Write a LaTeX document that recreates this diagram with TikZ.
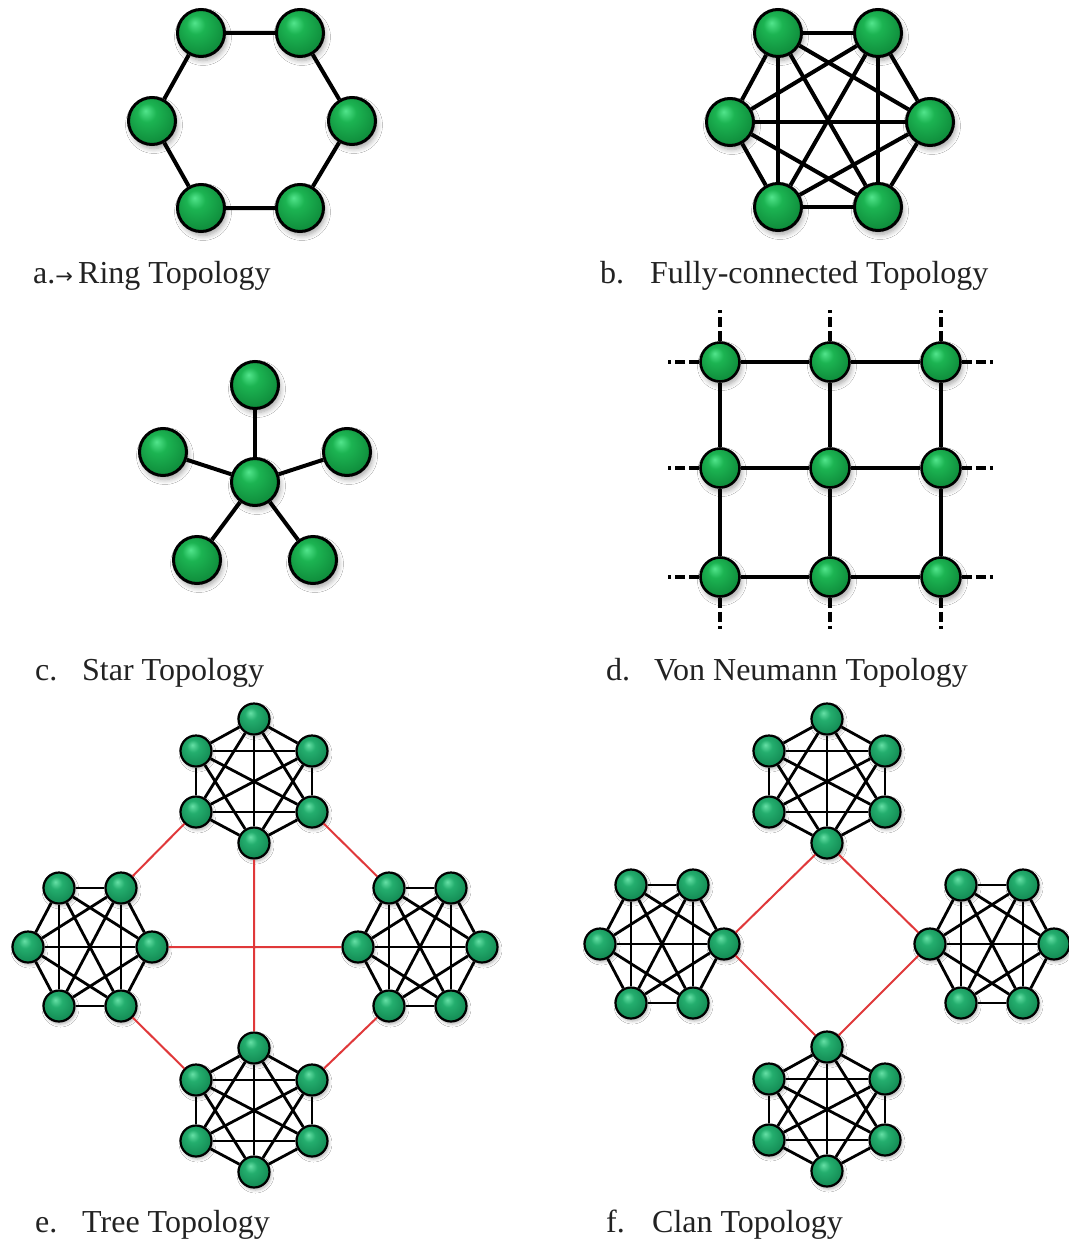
\documentclass[tikz,border=0pt]{standalone}
\usepackage{fontspec}
\setmainfont{Liberation Serif}
\newfontfamily\arrowfont{DejaVu Sans}
\usetikzlibrary{shadows.blur}
\definecolor{ga}{HTML}{52E58C}
\definecolor{gb}{HTML}{1CB452}
\definecolor{gc}{HTML}{0E8A3A}
\definecolor{gd}{HTML}{075A25}
\definecolor{ta}{HTML}{66E0A6}
\definecolor{tb}{HTML}{24AE6E}
\definecolor{tc}{HTML}{128852}
\definecolor{td}{HTML}{0A5E38}
\definecolor{redline}{HTML}{E0383A}
\definecolor{txt}{HTML}{222222}
\pgfdeclareradialshading{gball}{\pgfpoint{-7bp}{11bp}}{color(0bp)=(ga); color(10bp)=(gb); color(30bp)=(gc); color(46bp)=(gd); color(50bp)=(gd)}
\pgfdeclareradialshading{tball}{\pgfpoint{-6bp}{10bp}}{color(0bp)=(ta); color(10bp)=(tb); color(30bp)=(tc); color(46bp)=(td); color(50bp)=(td)}
\tikzset{
  bignode/.style={circle, draw=black, line width=3pt, minimum size=47pt, inner sep=0pt, shading=gball,
    blur shadow={shadow xshift=2pt, shadow yshift=-4pt, shadow blur steps=6, shadow blur radius=5pt, shadow opacity=35}},
  vnnode/.style={bignode, line width=2.6pt, minimum size=39pt},
  cnode/.style={circle, draw=black, line width=2.2pt, minimum size=31pt, inner sep=0pt, shading=tball,
    blur shadow={shadow xshift=1.5pt, shadow yshift=-2.5pt, shadow blur steps=5, shadow blur radius=3pt, shadow opacity=30}},
  lnk/.style={line width=4pt, black},
  vnlnk/.style={line width=3.3pt, black},
  clnk/.style={line width=2.8pt, black},
  redlnk/.style={line width=2pt, redline},
  stubline/.style={line width=3.3pt, black, dash pattern=on 10pt off 4pt on 10pt off 4pt on 3pt off 60pt},
  lbl/.style={anchor=base west, inner sep=0pt, text=txt, font=\fontsize{32}{32}\selectfont}
}
\newcommand\vclust[3]{%
  \node[cnode] (#1-1) at (#2,#3-62) {};
  \node[cnode] (#1-2) at (#2+58,#3-30) {};
  \node[cnode] (#1-3) at (#2+58,#3+31) {};
  \node[cnode] (#1-4) at (#2,#3+62) {};
  \node[cnode] (#1-5) at (#2-58,#3+31) {};
  \node[cnode] (#1-6) at (#2-58,#3-30) {};
  \kedges{#1}}
\newcommand\hclust[3]{%
  \node[cnode] (#1-1) at (#2-31,#3-59) {};
  \node[cnode] (#1-2) at (#2+31,#3-59) {};
  \node[cnode] (#1-3) at (#2+62,#3) {};
  \node[cnode] (#1-4) at (#2+31,#3+59) {};
  \node[cnode] (#1-5) at (#2-31,#3+59) {};
  \node[cnode] (#1-6) at (#2-62,#3) {};
  \kedges{#1}}
\newcommand\kedges[1]{%
  \foreach \i/\j in {1/2,1/3,1/4,1/5,1/6,2/3,2/4,2/5,2/6,3/4,3/5,3/6,4/5,4/6,5/6}
    \draw[clnk] (#1-\i) -- (#1-\j);}
\begin{document}
\begin{tikzpicture}[x=1pt,y=-1pt]
\fill[white] (0,0) rectangle (1068,1239);
\useasboundingbox (0,0) rectangle (1068,1239);

% a. Ring
\node[bignode] (r1) at (201,33) {};
\node[bignode] (r2) at (300,33) {};
\node[bignode] (r3) at (352,121) {};
\node[bignode] (r4) at (300,208) {};
\node[bignode] (r5) at (201,208) {};
\node[bignode] (r6) at (152,121) {};
\draw[lnk] (r1)--(r2) (r2)--(r3) (r3)--(r4) (r4)--(r5) (r5)--(r6) (r6)--(r1);

% b. Fully connected
\node[bignode] (f1) at (778,33) {};
\node[bignode] (f2) at (878,33) {};
\node[bignode] (f3) at (930,122) {};
\node[bignode] (f4) at (878,207) {};
\node[bignode] (f5) at (778,207) {};
\node[bignode] (f6) at (730,122) {};
\foreach \i/\j in {1/2,1/3,1/4,1/5,1/6,2/3,2/4,2/5,2/6,3/4,3/5,3/6,4/5,4/6,5/6}
  \draw[lnk] (f\i) -- (f\j);

% c. Star
\node[bignode] (sc) at (255,482) {};
\node[bignode] (s1) at (255,385) {};
\node[bignode] (s2) at (347,452) {};
\node[bignode] (s3) at (313,560) {};
\node[bignode] (s4) at (197,560) {};
\node[bignode] (s5) at (163,452) {};
\foreach \i in {1,...,5} \draw[lnk] (sc) -- (s\i);

% d. Von Neumann
\foreach \c/\x in {1/720,2/830,3/941}
  \foreach \r/\y in {1/362,2/468,3/577}
    \node[vnnode] (v\r\c) at (\x,\y) {};
\foreach \c/\x in {1/720,2/830,3/941} {
  \coordinate (vt\c) at (\x,308);
  \coordinate (vb\c) at (\x,641);
}
\foreach \r/\y in {1/362,2/468,3/577} {
  \coordinate (vl\r) at (660,\y);
  \coordinate (vr\r) at (1006,\y);
}
\foreach \r in {1,2,3} \draw[vnlnk] (v\r1)--(v\r2) (v\r2)--(v\r3);
\foreach \c in {1,2,3} \draw[vnlnk] (v1\c)--(v2\c) (v2\c)--(v3\c);
\foreach \c in {1,2,3} \draw[stubline] (v1\c)--(vt\c) (v3\c)--(vb\c);
\foreach \r in {1,2,3} \draw[stubline] (v\r1)--(vl\r) (v\r3)--(vr\r);

% e. Tree
\vclust{tt}{254}{781}
\vclust{tb}{254}{1110}
\hclust{tl}{90}{947}
\hclust{tr}{420}{947}
\draw[redlnk] (tl-2)--(tt-5) (tl-4)--(tb-6) (tr-1)--(tt-3) (tr-5)--(tb-2)
  (tl-3)--(tr-6) (tt-4)--(tb-1);

% f. Clan
\vclust{ct}{827}{781}
\vclust{cb}{827}{1109}
\hclust{cl}{662}{944}
\hclust{cr}{992}{944}
\draw[redlnk] (ct-4)--(cl-3) (ct-4)--(cr-6) (cb-1)--(cl-3) (cb-1)--(cr-6);

% labels
\node[lbl] (la) at (33,283) {\makebox[45pt][l]{a.{\arrowfont\fontsize{21}{21}\selectfont →}}Ring Topology};
\node[lbl] (lb) at (600,283) {\makebox[50pt][l]{b.}Fully-connected Topology};
\node[lbl] (lc) at (35,680) {\makebox[47pt][l]{c.}Star Topology};
\node[lbl] (ld) at (606,680) {\makebox[48pt][l]{d.}Von Neumann Topology};
\node[lbl] (le) at (35,1232) {\makebox[47pt][l]{e.}Tree Topology};
\node[lbl] (lf) at (606,1232) {\makebox[46pt][l]{f.}Clan Topology};
\end{tikzpicture}
\end{document}
